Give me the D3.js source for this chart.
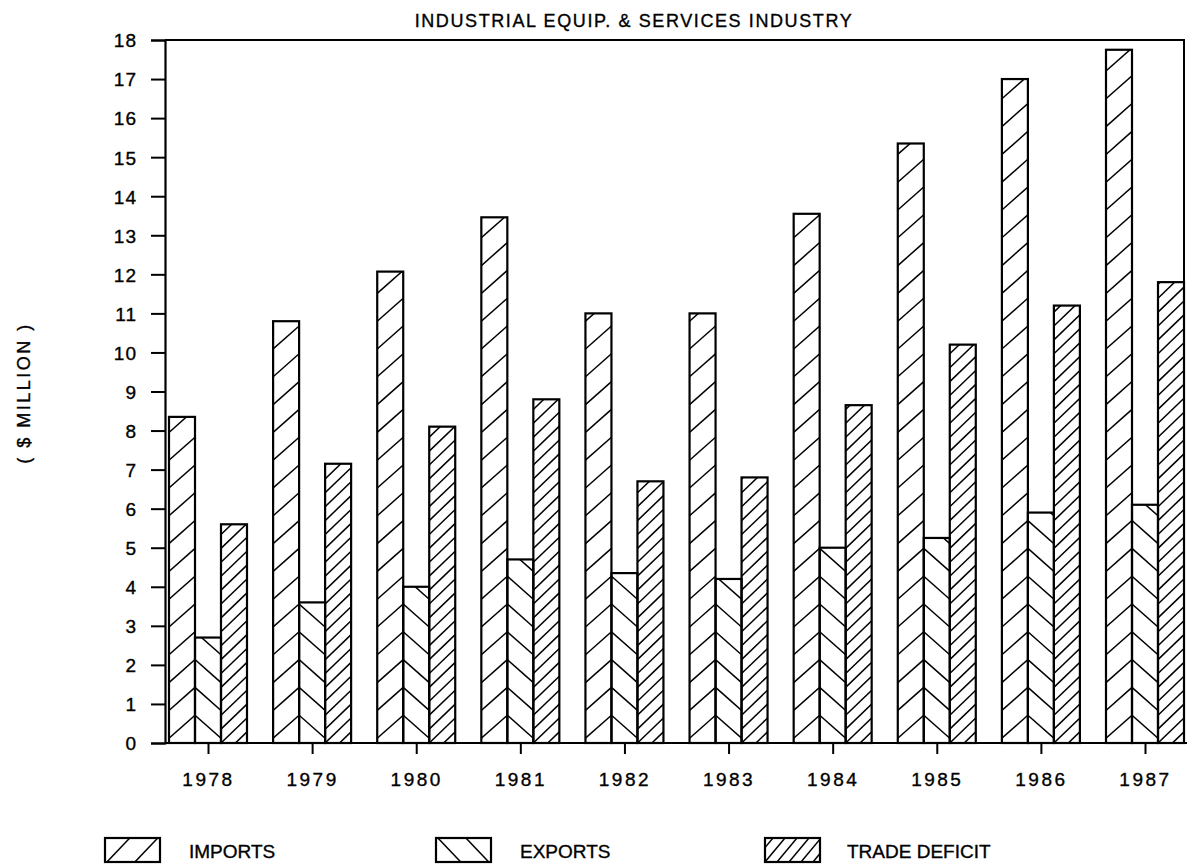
<!DOCTYPE html>
<html>
<head>
<meta charset="utf-8">
<script src="https://cdn.jsdelivr.net/npm/d3@7"></script>
<style>
  html, body { margin: 0; padding: 0; background: #fff; }
  svg { display: block; }
  text { font-family: "Liberation Sans", Arial, Helvetica, sans-serif; fill: #000; stroke: #000; stroke-width: 0.35px; }
</style>
</head>
<body>
<svg id="chart" width="1195" height="867"></svg>
<script>
// Trade figures, $ million
const years = ["1978", "1979", "1980", "1981", "1982", "1983", "1984", "1985", "1986", "1987"];
const imports = [8.35, 10.8, 12.07, 13.46, 11.0, 11.0, 13.55, 15.35, 17.0, 17.75];
const exports = [2.7, 3.6, 4.0, 4.7, 4.35, 4.2, 5.0, 5.25, 5.9, 6.1];
const deficit = [5.6, 7.15, 8.1, 8.8, 6.7, 6.8, 8.65, 10.2, 11.2, 11.8];
const yTicks = d3.range(0, 19);
const seriesNames = ["IMPORTS", "EXPORTS", "TRADE DEFICIT"];

const svg = d3.select("#chart");
const plot = { left: 165, right: 1184, top: 40, bottom: 743 };

const y = d3.scaleLinear().domain([0, 18]).range([plot.bottom, plot.top]);
const x = d3.scalePoint().domain(years).range([208, 1145]);
const barW = 26;

// Hatch styles: slope (rise per px), vertical period, phase at left edge, direction
const hatchSpec = [
  { dir: 1, slope: 23 / 26, period: 27.8, phase: -23 },   // imports  "/"
  { dir: -1, slope: 23 / 26, period: 27.8, phase: 0 },    // exports  "\"
  { dir: 1, slope: 25 / 26, period: 13.9, phase: 0 }      // deficit  dense "/"
];

const defs = svg.append("defs");
let clipId = 0;

function hatchRect(g, bx, byTop, w, h, spec) {
  const id = "clip" + (clipId++);
  defs.append("clipPath").attr("id", id)
    .append("rect").attr("x", bx).attr("y", byTop).attr("width", w).attr("height", h);
  const base = byTop + h;
  const rise = spec.slope * w;
  const lines = [];
  const kMin = Math.floor((-rise - spec.phase) / spec.period) - 1;
  const kMax = Math.ceil((h + rise - spec.phase) / spec.period) + 1;
  for (let k = kMin; k <= kMax; k++) {
    const c = spec.phase + k * spec.period;
    lines.push({ x1: bx, y1: base - c, x2: bx + w, y2: base - (c + spec.dir * rise) });
  }
  g.append("g").attr("clip-path", `url(#${id})`)
    .selectAll("line").data(lines).join("line")
    .attr("x1", d => d.x1).attr("y1", d => d.y1)
    .attr("x2", d => d.x2).attr("y2", d => d.y2)
    .attr("stroke", "#000").attr("stroke-width", 1.5);
  g.append("rect").attr("x", bx).attr("y", byTop).attr("width", w).attr("height", h)
    .attr("fill", "none").attr("stroke", "#000").attr("stroke-width", 2.2);
}

// Bars
const series = [imports, exports, deficit];
const barsG = svg.append("g");
years.forEach((yr, i) => {
  series.forEach((vals, s) => {
    const bx = x(yr) - 1.5 * barW + s * barW;
    const top = y(vals[i]);
    hatchRect(barsG, bx, top, barW, y(0) - top, hatchSpec[s]);
  });
});

// Frame: top and right edges
svg.append("path")
  .attr("d", `M${plot.left},${plot.top}H${plot.right}V${plot.bottom}`)
  .attr("fill", "none").attr("stroke", "#000").attr("stroke-width", 2);

// Y axis
const yAxis = svg.append("g").attr("transform", `translate(${plot.left},0)`)
  .call(d3.axisLeft(y).tickValues(yTicks).tickFormat(d3.format("d")).tickSize(14).tickPadding(14));
yAxis.select(".domain").attr("stroke-width", 2.2);
yAxis.selectAll(".tick line").attr("stroke-width", 2);
yAxis.selectAll("text").attr("font-size", 19).attr("font-family", "Liberation Sans, Arial, sans-serif")
  .attr("letter-spacing", 1).attr("dy", "0.36em");

// X axis
const xAxis = svg.append("g").attr("transform", `translate(0,${plot.bottom})`)
  .call(d3.axisBottom(x).tickSize(11).tickPadding(19));
xAxis.select(".domain").attr("d", `M${plot.left},0H${plot.right + 3}`).attr("stroke-width", 2.2);
xAxis.selectAll(".tick line").attr("stroke-width", 2);
xAxis.selectAll("text").attr("font-size", 19).attr("font-family", "Liberation Sans, Arial, sans-serif")
  .attr("letter-spacing", 2.5);

// Title
svg.append("text").attr("x", 634).attr("y", 27).attr("text-anchor", "middle")
  .attr("font-size", 18).attr("letter-spacing", 1.6)
  .text("INDUSTRIAL EQUIP. & SERVICES INDUSTRY");

// Y axis label
svg.append("text").attr("transform", "translate(30,393) rotate(-90)")
  .attr("text-anchor", "middle").attr("font-size", 18).attr("letter-spacing", 2.5)
  .text("( $  MILLION )");

// Legend
const legendItems = [
  { name: seriesNames[0], sx: 105, tx: 189, spec: { dir: 1, slope: 1.05, period: 29.4, phase: -2 } },
  { name: seriesNames[1], sx: 436, tx: 520, spec: { dir: -1, slope: 1.05, period: 29.4, phase: 26 } },
  { name: seriesNames[2], sx: 765, tx: 847, spec: { dir: 1, slope: 1.2, period: 14.4, phase: 0 } }
];
const legendG = svg.append("g");
legendItems.forEach(it => {
  hatchRect(legendG, it.sx, 838, 55, 24, it.spec);
  legendG.append("text").attr("x", it.tx).attr("y", 858)
    .attr("font-size", 19).text(it.name);
});
</script>
</body>
</html>
